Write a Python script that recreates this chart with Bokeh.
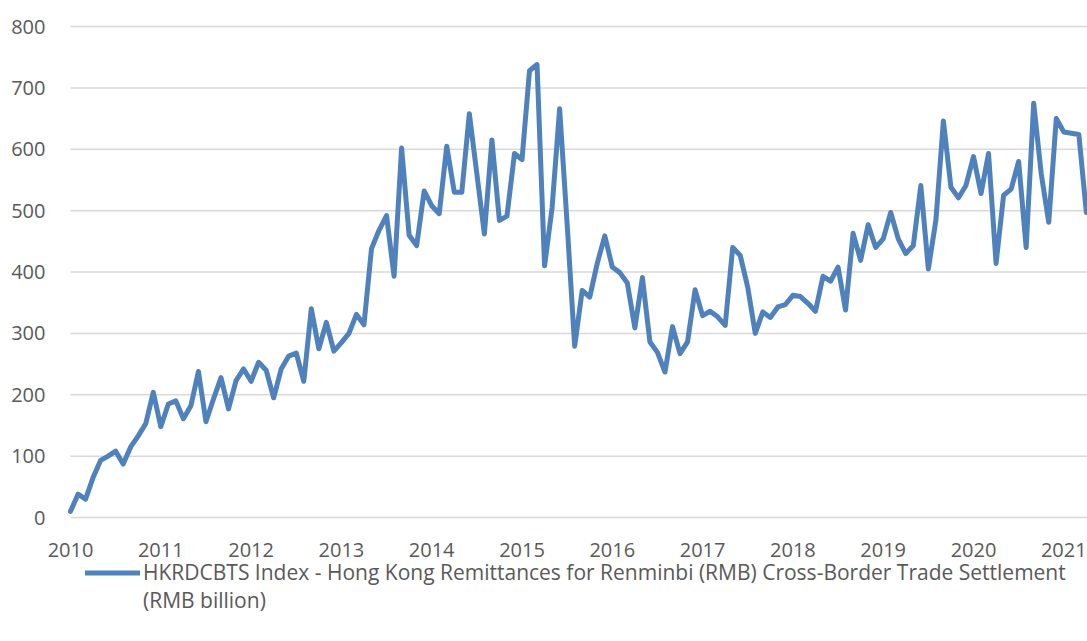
from bokeh.plotting import figure
from bokeh.models import Legend, LegendItem, FixedTicker, Range1d, ColumnDataSource
from bokeh.embed import file_html
from bokeh.resources import INLINE

start_year = 2010
# Monthly values, Jan 2010 .. Apr 2021 (RMB billion)
values = [
    10, 38, 30, 65, 93, 100, 108, 87, 115, 133, 153, 204,
    148, 185, 190, 161, 182, 238, 156, 193, 228, 177, 223, 242,
    222, 253, 240, 195, 242, 263, 268, 222, 340, 275, 318, 271,
    285, 300, 331, 314, 438, 468, 492, 393, 602, 460, 443, 532,
    508, 495, 605, 530, 530, 658, 560, 462, 615, 484, 491, 593,
    583, 728, 738, 410, 505, 666, 478, 279, 370, 359, 414, 459,
    408, 399, 382, 309, 391, 286, 269, 237, 311, 267, 286, 371,
    329, 336, 327, 313, 440, 427, 375, 300, 335, 326, 343, 347,
    362, 360, 349, 336, 393, 385, 408, 338, 463, 419, 477, 440,
    454, 497, 454, 430, 443, 541, 405, 484, 646, 538, 521, 541,
    588, 528, 593, 414, 525, 535, 580, 440, 675, 560, 481, 650,
    628, 626, 624, 497,
]
year_ticks = list(range(2010, 2022))
y_ticks = list(range(0, 801, 100))
legend_line1 = ("HKRDCBTS Index - Hong Kong Remittances for Renminbi (RMB) "
                "Cross-Border Trade Settlement")
legend_line2 = "(RMB billion)"

x = [start_year + i / 12 for i in range(len(values))]
src = ColumnDataSource(dict(x=x, y=values))

FONT = "Open Sans"
GREY = "#595959"
BLUE = "#4F81BD"

# page geometry (pixels)
W, H = 1087, 636
PLOT_LEFT, PLOT_RIGHT, PLOT_TOP, PLOT_BOTTOM = 70, 1087, 26, 517
px_per_year = (PLOT_RIGHT - PLOT_LEFT) / (135.15 / 12)
px_per_unit = (PLOT_BOTTOM - PLOT_TOP) / 800
x_start = start_year - PLOT_LEFT / px_per_year
x_end = start_year + (PLOT_RIGHT - PLOT_LEFT) / px_per_year
y_end = 800 + PLOT_TOP / px_per_unit
y_start = -(H - PLOT_BOTTOM) / px_per_unit

p = figure(frame_width=W, frame_height=H, output_backend="svg", toolbar_location=None,
           x_range=Range1d(x_start, x_end), y_range=Range1d(y_start, y_end),
           min_border_left=0, min_border_right=0, min_border_top=0, min_border_bottom=0)
p.outline_line_color = None
p.xgrid.grid_line_color = None
p.ygrid.grid_line_color = None

# horizontal gridlines across the plotting area only
p.segment(x0=[start_year] * len(y_ticks), x1=[x_end] * len(y_ticks),
          y0=y_ticks, y1=y_ticks, line_color="#D9D9D9", line_width=1.5)

r = p.line("x", "y", source=src, line_color=BLUE, line_width=5,
           line_join="round", line_cap="round")

for ax in (p.xaxis, p.yaxis):
    ax.axis_line_color = None
    ax.major_tick_line_color = None
    ax.minor_tick_line_color = None
    ax.major_tick_out = 0
    ax.major_tick_in = 0
    ax.major_label_text_font = FONT
    ax.major_label_text_font_size = "20px"
    ax.major_label_text_color = GREY

p.xaxis.ticker = FixedTicker(ticks=year_ticks)
p.xaxis.major_label_overrides = {t: str(t) for t in year_ticks}
p.xaxis.major_label_standoff = 25
p.xaxis.fixed_location = 0
p.yaxis.ticker = FixedTicker(ticks=y_ticks)
p.yaxis.major_label_standoff = 25
p.yaxis.fixed_location = start_year

r_blank = p.line("x", "y", source=src, line_alpha=0)

legend = Legend(items=[LegendItem(label=legend_line1, renderers=[r]),
                       LegendItem(label=legend_line2, renderers=[r_blank])],
                location=(85, 22), orientation="vertical")
legend.border_line_color = None
legend.background_fill_alpha = 0
legend.label_text_font = FONT
legend.label_text_font_size = "21px"
legend.label_text_color = GREY
legend.label_height = 27
legend.glyph_height = 27
legend.glyph_width = 55
legend.label_standoff = 3
legend.margin = 0
legend.padding = 0
legend.spacing = 0
p.add_layout(legend, "center")

open("out.html", "w").write(file_html(p, INLINE))
